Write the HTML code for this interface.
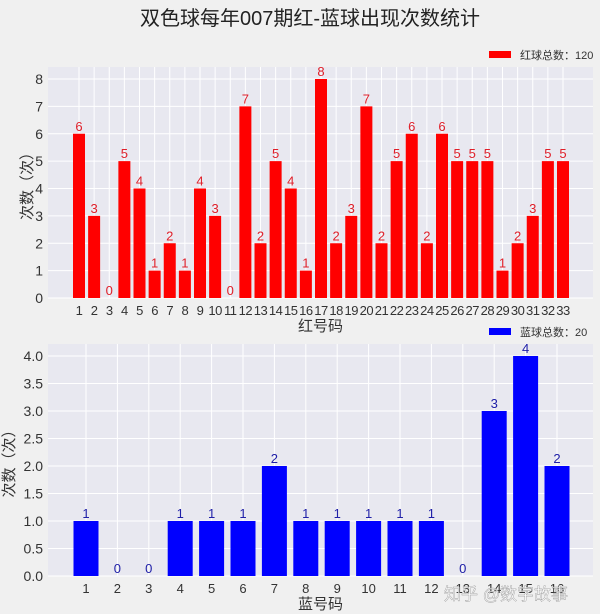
<!DOCTYPE html>
<html><head><meta charset="utf-8"><style>
body{margin:0;background:#f0f0f0;}
svg{display:block;font-family:"Liberation Sans","Noto Sans CJK SC",sans-serif;}
</style></head><body>
<svg width="600" height="614" viewBox="0 0 600 614">
<rect width="600" height="614" fill="#f0f0f0"/>
<text x="310" y="25" font-size="20" text-anchor="middle" fill="#222">双色球每年007期红-蓝球出现次数统计</text>
<g id="top"></g>
<g id="bot"></g>
<text x="568" y="600" font-size="17" text-anchor="end" fill="#ffffff" fill-opacity="0.75" stroke="#999" stroke-width="0.4">知乎 @数字故事</text>
</svg>
<script>
const redCats=[1,2,3,4,5,6,7,8,9,10,11,12,13,14,15,16,17,18,19,20,21,22,23,24,25,26,27,28,29,30,31,32,33];
const redVals=[6,3,0,5,4,1,2,1,4,3,0,7,2,5,4,1,8,2,3,7,2,5,6,2,6,5,5,5,1,2,3,5,5];
const redTicks=[0,1,2,3,4,5,6,7,8];
const blueCats=[1,2,3,4,5,6,7,8,9,10,11,12,13,14,15,16];
const blueVals=[1,0,0,1,1,1,2,1,1,1,1,1,0,3,4,2];
const blueTicks=[0,0.5,1,1.5,2,2.5,3,3.5,4];
const NS="http://www.w3.org/2000/svg";
function mk(p,t,a,txt){const e=document.createElementNS(NS,t);for(const k in a)e.setAttribute(k,a[k]);if(txt!==undefined)e.textContent=txt;p.appendChild(e);return e;}
function draw(g,o){
  const {cats,vals,ticks,left,right,top,bottom,yMax,color,lblColor,fmt,xlabel,legend,legY,barW,xStart,xEnd}=o;
  const bg=mk(g,'rect',{x:left,y:top,width:right-left,height:bottom-top,fill:'#e8e8f0'});
  
  
  const y=v=>bottom-(v/yMax)*(bottom-top-(top===67?12:12));
  const step=(xEnd-xStart)/(cats.length-1);
  const x=i=>xStart+i*step;
  ticks.forEach(t=>{
    const l=mk(g,'line',{x1:left,x2:right,y1:y(t),y2:y(t),stroke:'#fff','stroke-width':1});
    
    
    const tl=mk(g,'text',{x:left-5,y:y(t)+5,'font-size':14,'text-anchor':'end',fill:'#333'},fmt(t));
    
    
  });
  cats.forEach((c,i)=>{
    const l=mk(g,'line',{x1:x(i),x2:x(i),y1:top,y2:bottom,stroke:'#fff','stroke-width':1});
    
    
  });
  cats.forEach((c,i)=>{
    const v=vals[i];
    const b=mk(g,'rect',{x:x(i)-barW/2,y:y(v),width:barW,height:bottom-y(v),fill:color});
    
    
    const vl=mk(g,'text',{x:x(i),y:y(v)-3,'font-size':13,'text-anchor':'middle',fill:lblColor},String(v));
    
    
    const xl=mk(g,'text',{x:x(i),y:bottom+17,'font-size':13,'text-anchor':'middle',fill:'#333','letter-spacing':cats.length>20?'-0.5':'0'},String(c));
    
    
  });
  const xt=mk(g,'text',{x:(left+right)/2,y:bottom+33,'font-size':15,'text-anchor':'middle',fill:'#333'},xlabel);
  
  
  const cy=(top+bottom)/2;
  const yt=mk(g,'text',{x:0,y:0,'font-size':15,'text-anchor':'middle',fill:'#333',transform:`translate(${o.yTitleX},${cy}) rotate(-90)`},'次数（次）');
  
  
  const lb=mk(g,'rect',{x:489,y:legY-4,width:22,height:7,fill:color});
  
  
  const lt=mk(g,'text',{x:520,y:legY+4,'font-size':11,fill:'#333'},legend);
  
  
}
draw(document.getElementById('top'),{cats:redCats,vals:redVals,ticks:redTicks,left:48,right:593,top:67,bottom:298,yMax:8,color:'#ff0000',lblColor:'#e0202a',fmt:t=>String(t),xlabel:'红号码',legend:'红球总数：120',legY:55,barW:12,xStart:79,xEnd:563,yTitleX:32});
draw(document.getElementById('bot'),{cats:blueCats,vals:blueVals,ticks:blueTicks,left:48,right:593,top:344,bottom:576,yMax:4,color:'#0000ff',lblColor:'#2020a8',fmt:t=>t.toFixed(1),xlabel:'蓝号码',legend:'蓝球总数：20',legY:332,barW:25,xStart:86,xEnd:557,yTitleX:14});
</script>
</body></html>
